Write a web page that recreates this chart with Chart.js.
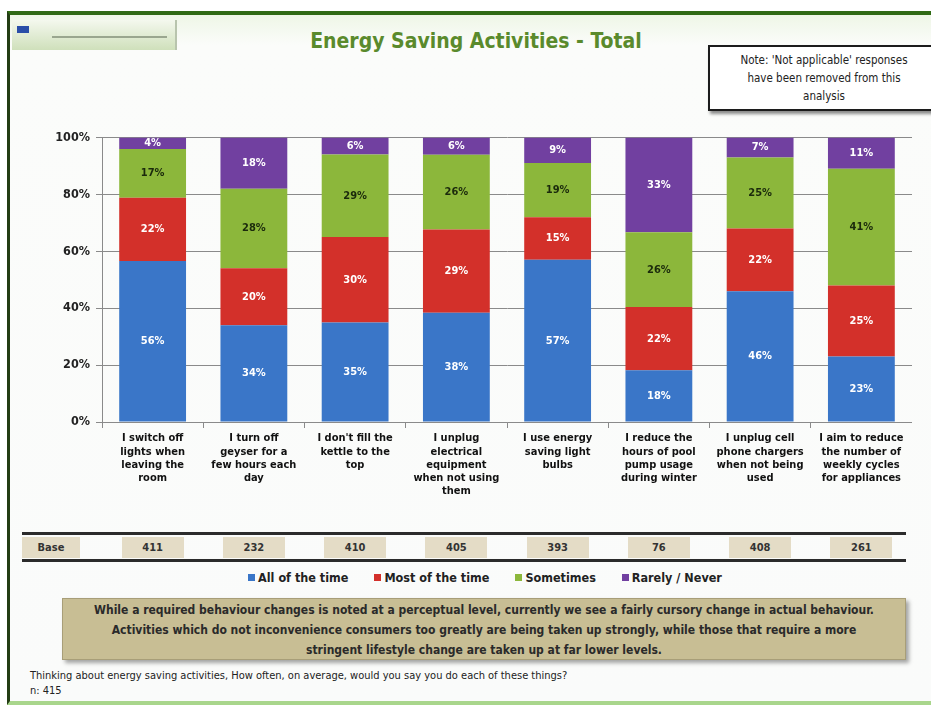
<!DOCTYPE html>
<html>
<head>
<meta charset="utf-8">
<script src="https://cdn.jsdelivr.net/npm/chart.js@4.4.0/dist/chart.umd.min.js"></script>
<style>
  body { margin: 0; width: 931px; height: 708px; overflow: hidden; background: #fff; position: relative;
         font-family: 'Liberation Sans Narrow', 'DejaVu Sans Condensed', sans-serif; }
  .frame { position: absolute; left: 7px; top: 11px; width: 940px; height: 686px;
           border-top: 4px solid #2f6a14; border-left: 3px solid #233d14; border-bottom: 4px solid #a9d68c;
           background: linear-gradient(#eef6e6 0px, #fbfcfa 30px, #fafbfa 100%); }
  .logo { position: absolute; left: 12px; top: 20px; width: 163px; height: 30px;
          background: linear-gradient(#f4f8ee, #cfe0bb); border-right: 2px solid #b8c4ad; }
  .logo .icon { position: absolute; left: 5px; top: 6px; width: 12px; height: 7px; background: #2a4ea8; }
  .logo .txt { position: absolute; left: 40px; top: 16px; width: 115px; height: 2px; background: #9aa68f; }
  .title { position: absolute; left: 0; width: 952px; top: 29px; text-align: center; font-size: 21px;
           font-weight: bold; color: #5a8a2c; }
  .note { position: absolute; left: 708px; top: 45px; width: 232px; height: 66px; background: #fff;
          border: 2px solid #1c1c1c; box-shadow: 2px 3px 3px rgba(0,0,0,0.45); text-align: center;
          font-size: 11.5px; line-height: 18px; color: #222; padding-top: 4px; box-sizing: border-box; }
  #wrap { position: absolute; left: 40px; top: 124px; width: 872px; height: 403px; }
  .rule { position: absolute; left: 22px; width: 884px; height: 0; border-top: 3px solid #2b2b2b; }
  .cell { position: absolute; top: 537px; height: 21px; line-height: 21px; background: #e4dcc6;
          text-align: center; font-size: 11px; font-weight: bold; color: #333; }
  .legend { position: absolute; left: 0; width: 970px; top: 570px; text-align: center; font-size: 12.5px;
            font-weight: bold; color: #222; }
  .legend span { margin: 0 13px; }
  .legend i { display: inline-block; width: 7px; height: 7px; margin-right: 3px; vertical-align: 1px; }
  .summary { position: absolute; left: 62px; top: 598px; width: 844px; height: 62px; background: #c8be94;
             border: 1px solid #a89e78; box-shadow: 3px 3px 4px rgba(0,0,0,0.35); box-sizing: border-box;
             text-align: center; font-size: 12px; font-weight: bold; line-height: 20px; color: #2a2a2a; padding-top: 1px; }
  .foot { position: absolute; left: 30px; top: 668px; font-size: 11px; line-height: 15px; color: #222; }
</style>
</head>
<body>
<div class="frame"></div>
<div class="logo"><div class="icon"></div><div class="txt"></div></div>
<div class="title">Energy Saving Activities - Total</div>
<div class="note">Note: 'Not applicable' responses<br>have been removed from this<br>analysis</div>
<div id="wrap"><canvas id="myChart"></canvas></div>
<div class="rule" style="top:532px"></div>
<div class="rule" style="top:559px"></div>
<div id="base"></div>
<div class="legend" id="legend"></div>
<div class="summary">While a required behaviour changes is noted at a perceptual level, currently we see a fairly cursory change in actual behaviour.<br>Activities which do not inconvenience consumers too greatly are being taken up strongly, while those that require a more<br>stringent lifestyle change are taken up at far lower levels.</div>
<div class="foot">Thinking about energy saving activities, How often, on average, would you say you do each of these things?<br>n: 415</div>

<script>
const categories = [
    ['I switch off', 'lights when', 'leaving the', 'room'],
    ['I turn off', 'geyser for a', 'few hours each', 'day'],
    ["I don't fill the", 'kettle to the', 'top'],
    ['I unplug', 'electrical', 'equipment', 'when not using', 'them'],
    ['I use energy', 'saving light', 'bulbs'],
    ['I reduce the', 'hours of pool', 'pump usage', 'during winter'],
    ['I unplug cell', 'phone chargers', 'when not being', 'used'],
    ['I aim to reduce', 'the number of', 'weekly cycles', 'for appliances']
]
const seriesNames = ['All of the time', 'Most of the time', 'Sometimes', 'Rarely / Never']
const allOfTheTime = [56, 34, 35, 38, 57, 18, 46, 23]
const mostOfTheTime = [22, 20, 30, 29, 15, 22, 22, 25]
const sometimes = [17, 28, 29, 26, 19, 26, 25, 41]
const rarelyNever = [4, 18, 6, 6, 9, 33, 7, 11]
const baseCounts = [411, 232, 410, 405, 393, 76, 408, 261]
const yTicks = [0, 20, 40, 60, 80, 100]

const colors = ['#3a76c8', '#d3302a', '#8cb73b', '#7140a0']
const labelColors = ['#ffffff', '#ffffff', '#1b2a0c', '#ffffff']

const allSeries = [allOfTheTime, mostOfTheTime, sometimes, rarelyNever]
// 100% stacked, like the original Excel chart
const totals = categories.map((c, i) => allSeries.reduce((s, arr) => s + arr[i], 0))

const datasets = allSeries.map((arr, k) => ({
    label: seriesNames[k],
    data: arr.map((v, i) => v / totals[i] * 100),
    raw: arr,
    backgroundColor: colors[k],
    labelColor: labelColors[k],
    barPercentage: 0.66,
    categoryPercentage: 1
}))

const barLabels = {
    id: 'barLabels',
    afterDatasetsDraw(chart) {
        const ctx = chart.ctx
        ctx.save()
        ctx.font = "bold 11px 'Liberation Sans Narrow', 'DejaVu Sans Condensed', sans-serif"
        ctx.textAlign = 'center'
        ctx.textBaseline = 'middle'
        chart.data.datasets.forEach((ds, i) => {
            chart.getDatasetMeta(i).data.forEach((bar, j) => {
                ctx.fillStyle = ds.labelColor
                ctx.fillText(ds.raw[j] + '%', bar.x, (bar.y + bar.base) / 2)
            })
        })
        ctx.restore()
    }
}

const fontFamily = "'Liberation Sans Narrow', 'DejaVu Sans Condensed', sans-serif"

const ctx = document.getElementById('myChart').getContext('2d')
const myChart = new Chart(ctx, {
    type: 'bar',
    data: { labels: categories, datasets: datasets },
    options: {
        animation: false,
        responsive: true,
        maintainAspectRatio: false,
        layout: { padding: { top: 7, right: 0, left: 0, bottom: 0 } },
        plugins: { legend: { display: false }, tooltip: { enabled: false } },
        scales: {
            x: {
                stacked: true,
                grid: { display: true, drawOnChartArea: false, drawTicks: true, tickLength: 6, color: '#8a8a8a', offset: true },
                border: { display: true, color: '#8a8a8a' },
                ticks: { font: { family: fontFamily, size: 11, weight: 'bold' }, color: '#111', padding: 4, maxRotation: 0, autoSkip: false },
                afterFit: s => { s.height = 105 }
            },
            y: {
                stacked: true,
                min: 0,
                max: 100,
                afterBuildTicks: s => { s.ticks = yTicks.map(v => ({ value: v })) },
                grid: { color: '#8a8a8a', tickLength: 6 },
                border: { display: true, color: '#8a8a8a' },
                ticks: { font: { family: fontFamily, size: 12.5, weight: 'bold' }, color: '#222', padding: 6, callback: v => v + '%' },
                afterFit: s => { s.width = 62 }
            }
        }
    },
    plugins: [barLabels]
})

// base row under the chart, cells centred on the bars
const baseEl = document.getElementById('base')
const wrapLeft = 40
let html = '<div class="cell" style="left:22px;width:58px">Base</div>'
baseCounts.forEach((n, i) => {
    const cx = wrapLeft + myChart.scales.x.getPixelForValue(i)
    html += '<div class="cell" style="left:' + (cx - 31) + 'px;width:62px">' + n + '</div>'
})
baseEl.innerHTML = html

document.getElementById('legend').innerHTML = seriesNames.map((n, k) =>
    '<span><i style="background:' + colors[k] + '"></i>' + n + '</span>').join('')
</script>
</body>
</html>
